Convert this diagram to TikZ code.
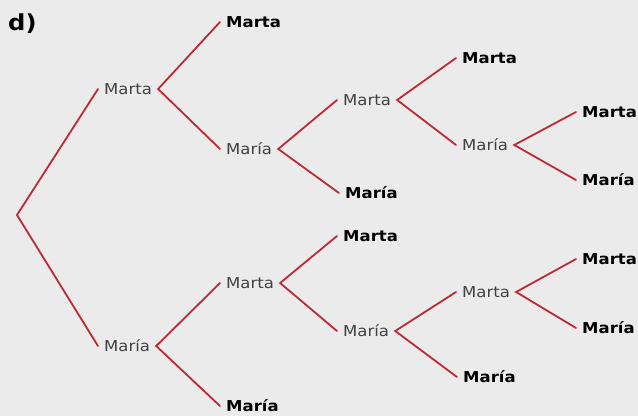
\documentclass[tikz,border=0pt]{standalone}
\usepackage{fontspec}
\setmainfont{DejaVu Sans}[FakeStretch=1.1]
\definecolor{bg}{HTML}{EBEBEB}
\definecolor{branch}{RGB}{190,42,52}
\definecolor{lbl}{HTML}{404040}
\begin{document}
\begin{tikzpicture}[x=1pt,y=-1pt,
  lv/.style={anchor=west,inner xsep=6pt,inner ysep=2pt,font=\fontsize{15}{15}\selectfont,text=lbl},
  lf/.style={anchor=west,inner xsep=6pt,inner ysep=2pt,font=\fontsize{15}{15}\selectfont\bfseries,text=black},
  br/.style={draw=branch,line width=1.8pt,line cap=round}]
\fill[bg] (0,0) rectangle (638,416);
\useasboundingbox (0,0) rectangle (638,416);
\node[anchor=west,inner sep=0pt,font=\fontsize{22}{22}\selectfont\bfseries] (lab) at (8,24) {d)};
\coordinate (r) at (17,215);
\node[lv] (a) at (98,89) {Marta};
\node[lv] (b) at (98,346) {María};
\node[lf] (aa) at (220,22) {Marta};
\node[lv] (ab) at (220,149) {María};
\node[lv] (aba) at (337,100) {Marta};
\node[lf] (abb) at (339,193) {María};
\node[lf] (abaa) at (456,58) {Marta};
\node[lv] (abab) at (456,145) {María};
\node[lf] (ababa) at (576,112) {Marta};
\node[lf] (ababb) at (576,180) {María};
\node[lv] (ba) at (220,283) {Marta};
\node[lf] (bb) at (220,406) {María};
\node[lf] (baa) at (337,236) {Marta};
\node[lv] (bab) at (337,331) {María};
\node[lv] (baba) at (456,292) {Marta};
\node[lf] (babb) at (457,377) {María};
\node[lf] (babaa) at (576,259) {Marta};
\node[lf] (babab) at (576,328) {María};
\draw[br] (a.west) -- (r) -- (b.west);
\draw[br] (aa.west) -- (a.east) -- (ab.west);
\draw[br] (aba.west) -- (ab.east) -- (abb.west);
\draw[br] (abaa.west) -- (aba.east) -- (abab.west);
\draw[br] (ababa.west) -- (abab.east) -- (ababb.west);
\draw[br] (ba.west) -- (b.east) -- (bb.west);
\draw[br] (baa.west) -- (ba.east) -- (bab.west);
\draw[br] (baba.west) -- (bab.east) -- (babb.west);
\draw[br] (babaa.west) -- (baba.east) -- (babab.west);
\end{tikzpicture}
\end{document}
